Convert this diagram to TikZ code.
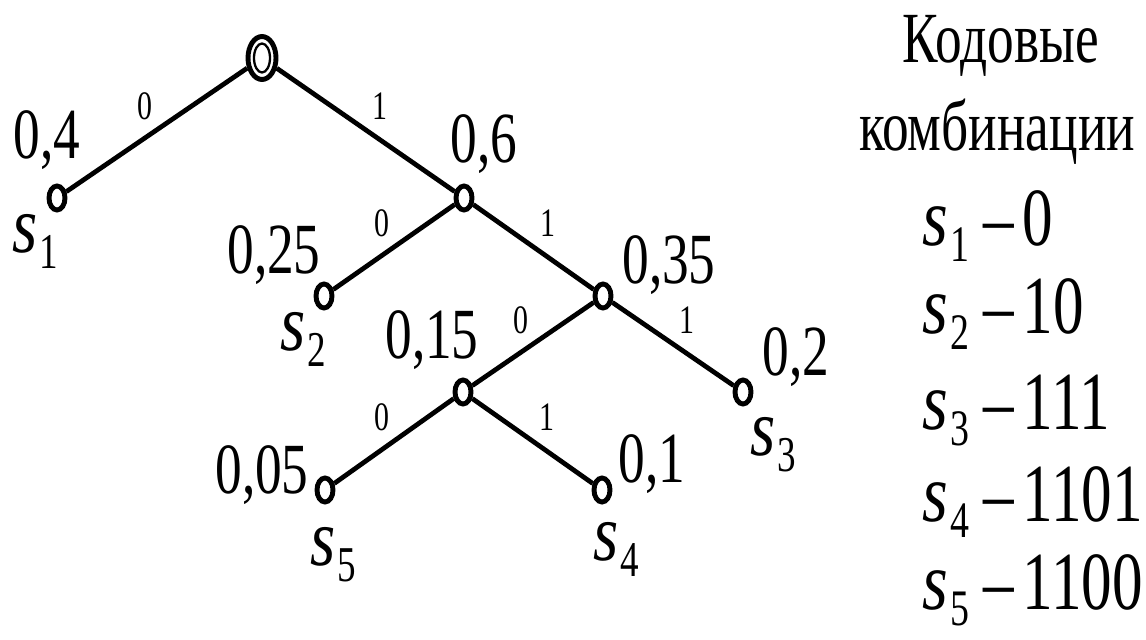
\documentclass[tikz,border=0pt]{standalone}
\usepackage{fontspec}
\usepackage{graphicx}
\setmainfont{Liberation Serif}[FakeStretch=0.74]
\newfontfamily\symit{Liberation Serif Italic}[FakeStretch=0.8]
\usetikzlibrary{shapes.geometric}

\newcommand{\probsize}{\fontsize{41}{49}\selectfont}
\newcommand{\bitsize}{\fontsize{23}{28}\selectfont}
\newcommand{\symsize}{\fontsize{46}{55}\selectfont}
\newcommand{\codesize}{\fontsize{47}{56}\selectfont}
\newcommand{\sn}[1]{{\symit s}\kern0.03em\raisebox{-0.2em}{\scalebox{0.62}{#1}}}

\begin{document}
\begin{tikzpicture}[x=0.02cm, y=-0.02cm,
  vert/.style={ellipse, draw, line width=2.8pt, inner sep=0pt,
    minimum width=0.32cm, minimum height=0.48cm},
  rootvert/.style={vert, minimum width=0.56cm, minimum height=0.86cm},
  edge/.style={line width=2.7pt},
  prob/.style={anchor=base west, inner sep=0pt, font=\probsize},
  sym/.style={anchor=base west, inner sep=0pt, font=\symsize},
  bitl/.style={midway, inner sep=0pt, font=\bitsize, shift={(-12,-24)}},
  bitr/.style={midway, inner sep=0pt, font=\bitsize, shift={(14,-24)}},
  code/.style={anchor=base west, inner sep=0pt, font=\codesize},
  head/.style={anchor=base, inner sep=0pt, font=\probsize}]
  \useasboundingbox (0,0) rectangle (1146,639);

  % tree vertices
  \node[rootvert] (root) at (262,58) {};
  \draw[line width=1.3pt] (root.center) ellipse [x radius=0.16cm, y radius=0.29cm];
  \node[vert] (s1) at (57,198) {};
  \node[vert] (u1) at (464,198) {};
  \node[vert] (s2) at (324,296) {};
  \node[vert] (u2) at (603,296) {};
  \node[vert] (s3) at (743,392) {};
  \node[vert] (u3) at (463,392) {};
  \node[vert] (s5) at (325,490) {};
  \node[vert] (s4) at (602,490) {};

  % branches with code bits
  \foreach \from/\to/\bit/\side in {root/s1/0/bitl, root/u1/1/bitr,
      u1/s2/0/bitl, u1/u2/1/bitr, u2/u3/0/bitl, u2/s3/1/bitr,
      u3/s5/0/bitl, u3/s4/1/bitr} {
    \draw[edge] (\from) -- (\to) node[\side] {\bit};
  }

  % probabilities
  \node[prob] (p1) at (13,158) {0,4};
  \node[prob] (p06) at (450,162) {0,6};
  \node[prob] (p2) at (227,273) {0,25};
  \node[prob] (p035) at (622,283) {0,35};
  \node[prob] (p015) at (385,358) {0,15};
  \node[prob] (p3) at (762,375) {0,2};
  \node[prob] (p5) at (215,493) {0,05};
  \node[prob] (p4) at (618,482) {0,1};

  % symbols
  \node[sym] (l1) at (12,252) {\sn{1}};
  \node[sym] (l2) at (280,350) {\sn{2}};
  \node[sym] (l3) at (750,455) {\sn{3}};
  \node[sym] (l4) at (593,560) {\sn{4}};
  \node[sym] (l5) at (310,565) {\sn{5}};

  % code table
  \node[head] (h1) at (1001,62) {Кодовые};
  \node[head] (h2) at (997,150) {комбинации};
  \foreach \k/\w/\y in {1/0/245, 2/10/333, 3/111/429, 4/1101/521, 5/1100/609} {
    \node[code] (c\k) at (922,\y) {\sn{\k}\kern8pt–\kern5pt\w};
  }
\end{tikzpicture}
\end{document}
